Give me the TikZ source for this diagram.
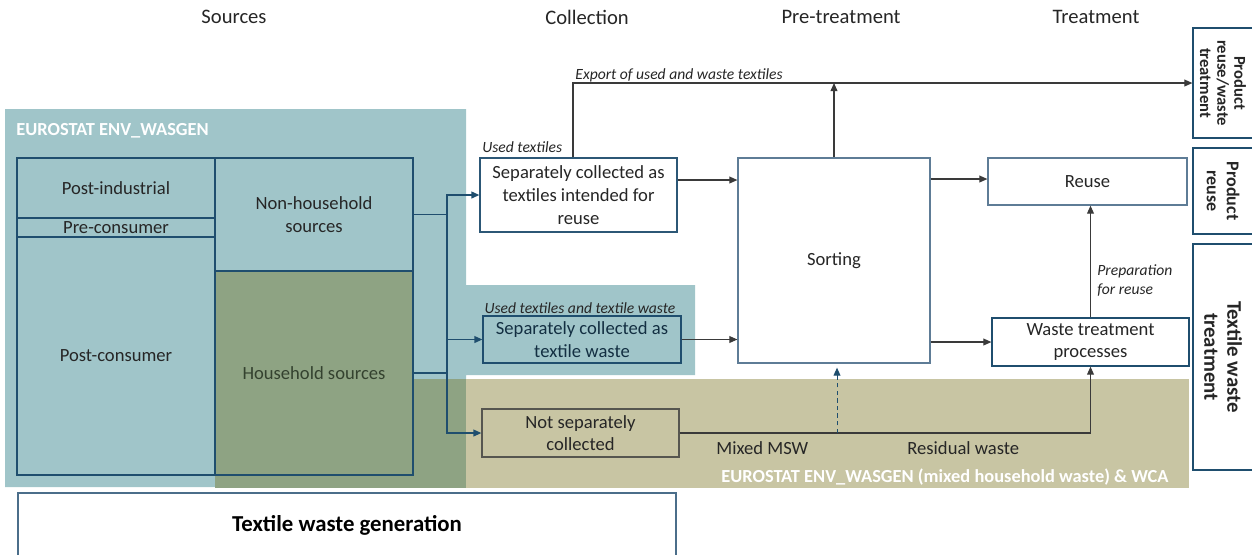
\documentclass[tikz,border=0pt]{standalone}
\usepackage{fontspec}
\setmainfont{Carlito}
\usetikzlibrary{arrows.meta,calc}
\definecolor{bluereg}{HTML}{A0C5C9}
\definecolor{olivereg}{HTML}{C8C5A3}
\definecolor{mixreg}{HTML}{8EA383}
\definecolor{navy}{HTML}{1F4E6E}
\definecolor{boxedge}{HTML}{5E7C96}
\definecolor{txt}{HTML}{262626}
\definecolor{conn}{HTML}{3A3A3A}
\definecolor{hhtxt}{HTML}{34422F}
\begin{document}
\begin{tikzpicture}[x=0.5pt,y=-0.5pt,
  boxtxt/.style={font=\fontsize{9.3}{11.3}\selectfont},
  box/.style={draw=boxedge,line width=0.6pt,inner sep=1pt,align=center,text=txt,boxtxt},
  srcbox/.style={draw=navy,line width=0.6pt,inner sep=0pt,align=center,text=txt,boxtxt},
  tip/.style={-{Triangle[length=4pt,width=3.4pt]}},
  flow/.style={draw=conn,line width=0.55pt,tip},
  srcline/.style={draw=navy,line width=0.7pt},
  srcflow/.style={draw=navy,line width=0.7pt,tip},
  lab/.style={font=\fontsize{7.8}{9.6}\selectfont\itshape,text=txt,inner sep=0pt},
  head/.style={font=\fontsize{10.3}{12}\selectfont,text=txt,inner sep=0pt},
  sidebox/.style={draw=navy,line width=0.6pt,fill=white},
  eulab/.style={font=\fontsize{9.2}{11}\selectfont\bfseries,text=white,inner sep=0pt}
]
\useasboundingbox (0,0) rectangle (1252,554);
% regions
\fill[bluereg] (5,109) -- (466,109) -- (466,285) -- (695,285) -- (695,375) -- (466,375) -- (466,487) -- (5,487) -- cycle;
\fill[olivereg] (466,379) rectangle (1189,488);
\fill[mixreg] (215,379) rectangle (466,488);
\node[eulab,anchor=west] (eu1) at (16,131) {EUROSTAT ENV\_WASGEN};
\node[eulab,anchor=west] (eu2) at (721,477) {EUROSTAT ENV\_WASGEN (mixed household waste) \& WCA};
% headers
\node[head] (hsrc) at (234,17) {Sources};
\node[head] (hcol) at (587,17) {Collection};
\node[head] (hpre) at (841,17) {Pre-treatment};
\node[head] (htre) at (1096,17) {Treatment};
% source boxes
\node[srcbox,minimum width=99pt,minimum height=30pt] (postind) at (116,188) {Post-industrial};
\node[srcbox,minimum width=99pt,minimum height=9.5pt] (precons) at (116,227.5) {Pre-consumer};
\node[srcbox,minimum width=99pt,minimum height=119pt] (postcons) at (116,356) {Post-consumer};
\node[srcbox,minimum width=99pt,minimum height=56.5pt] (nonhh) at (314,214.5) {Non-household\\sources};
\node[srcbox,fill=mixreg,text=hhtxt,minimum width=99pt,minimum height=102pt] (hh) at (314,373) {Household sources};
% collection boxes
\node[box,draw=navy!80!boxedge,fill=white,minimum width=98.5pt,minimum height=37pt] (sep1) at (578.5,195) {Separately collected as\\textiles intended for\\reuse};
\node[box,draw=navy,text=navy!60!black,minimum width=99pt,minimum height=23.5pt] (sep2) at (582,339.5) {Separately collected as\\textile waste};
\node[box,draw=conn!80!olivereg,minimum width=98.5pt,minimum height=24pt] (notsep) at (580.5,433) {Not separately\\collected};
% treatment boxes
\node[box,fill=white,minimum width=96pt,minimum height=102.5pt] (sorting) at (834,260.5) {Sorting};
\node[box,fill=white,minimum width=99.5pt,minimum height=23.5pt] (reuse) at (1087.5,181.5) {Reuse};
\node[box,draw=navy,fill=white,minimum width=98.5pt,minimum height=24pt] (wtp) at (1090.5,342) {Waste treatment\\processes};
% side boxes
\node[sidebox,minimum width=30pt,minimum height=55pt] (side1) at (1223,83) {};
\node[sidebox,minimum width=30pt,minimum height=43pt] (side2) at (1223,191) {};
\node[sidebox,minimum width=30pt,minimum height=113pt] (side3) at (1223,357) {};
\node[rotate=-90,align=center,text=txt,font=\fontsize{8.3}{8.6}\selectfont\bfseries] (side1t) at (side1.center) {Product\\reuse/waste\\treatment};
\node[rotate=-90,align=center,text=txt,font=\fontsize{9}{10}\selectfont\bfseries] (side2t) at (side2.center) {Product\\reuse};
\node[rotate=-90,align=center,text=txt,font=\fontsize{10.4}{11.5}\selectfont\bfseries] (side3t) at (side3.center) {Textile waste\\treatment};
% generation box
\node[draw=boxedge!70!navy,line width=0.6pt,fill=white,minimum width=329pt,minimum height=32pt,text=black,font=\fontsize{11.4}{13}\selectfont\bfseries] (gen) at (347,525) {Textile waste generation};
% source connectors
\coordinate (jx) at (447,0);
\draw[srcline] (nonhh.east) -- (nonhh.east -| jx);
\draw[srcline] (hh.east) -- (hh.east -| jx);
\draw[srcflow] (nonhh.east -| jx) |- (sep1.west);
\draw[srcflow] (nonhh.east -| jx) |- (sep2.west);
\draw[srcflow] (nonhh.east -| jx) |- (notsep.west);
% collection to sorting
\coordinate (a1) at (677,180);
\draw[flow] (sep1.east |- a1) -- (sorting.west |- a1);
\draw[flow] (sep2.east) -- (sorting.west |- sep2.east);
% export
\coordinate (ex) at (573,83);
\draw[flow] (sep1.north -| ex) |- (side1.west);
\draw[flow] (sorting.north) -- (sorting.north |- side1.west);
% sorting to treatment
\coordinate (a2) at (931,179);
\draw[flow] (sorting.east |- a2) -- (reuse.west |- a2);
\draw[flow] (sorting.east |- wtp.west) -- (wtp.west);
\draw[flow] (wtp.north) -- (reuse.south -| wtp.north);
% residual waste
\draw[flow] (notsep.east) -| (wtp.south);
\coordinate (dx) at (837,0);
\draw[draw=navy,line width=0.5pt,dash pattern=on 2.2pt off 1.6pt,tip,shorten >=2pt] (notsep.east -| dx) -- (sorting.south -| dx);
% labels
\node[lab,anchor=west] (lused) at (482,147) {Used textiles};
\node[lab,anchor=west] (lexp) at (575,75) {Export of used and waste textiles};
\node[lab,anchor=center] (lutw) at (580,308) {Used textiles and textile waste};
\node[lab,anchor=west,align=left] (lprep) at (1097,280.5) {Preparation\\for reuse};
\node[anchor=west,text=txt,boxtxt,inner sep=0pt] (lmsw) at (716,448) {Mixed MSW};
\node[anchor=west,text=txt,boxtxt,inner sep=0pt] (lres) at (907,448) {Residual waste};
\end{tikzpicture}
\end{document}
